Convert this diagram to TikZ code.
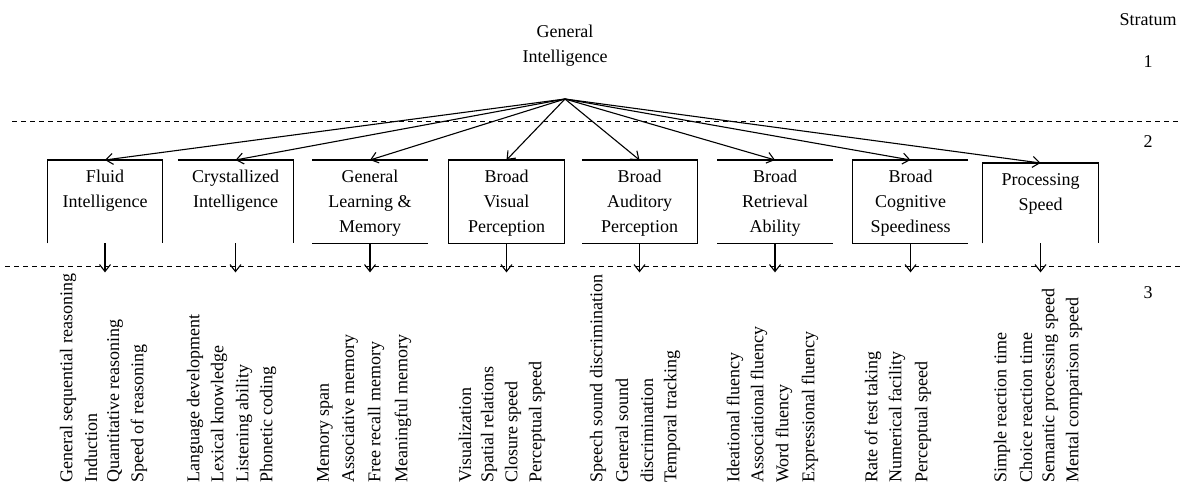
\documentclass[tikz,border=0pt]{standalone}
\usepackage{fontspec}
\setmainfont{Liberation Serif}
\usepackage{tikz}
\usetikzlibrary{arrows.meta, positioning}
\tikzset{
  catbox/.style={minimum width=115pt, minimum height=83pt, inner sep=0pt, anchor=north},
  cattext/.style={align=center, inner sep=0pt, font=\fontsize{18}{25}\selectfont},
  ability/.style={rotate=90, anchor=west, inner sep=0pt, font=\fontsize{18}{22}\selectfont},
  arrow/.style={-{Straight Barb[length=7pt,width=11pt]}, line width=1.1pt},
  edge/.style={line width=1.1pt},
  stratumline/.style={dash pattern=on 5pt off 4pt, line width=0.9pt}
}

\begin{document}
\begin{tikzpicture}[x=1pt, y=1pt, every node/.style={font=\fontsize{18}{25}\selectfont}]
    \useasboundingbox (0,0) rectangle (1181,492);

    % stratum 1
    \node[align=center] (gi) at (565,446) {General\\Intelligence};
    \coordinate (g) at (565,393);
    \node (stratum) at (1148,472) {Stratum};
    \node (s1) at (1148,430) {1};
    \node (s2) at (1148,350) {2};
    \node (s3) at (1148,199) {3};

    % strata borders
    \coordinate (b1l) at (12,371);
    \coordinate (b1r) at (1181,371);
    \coordinate (b2l) at (5,226);
    \coordinate (b2r) at (1181,226);
    \draw[stratumline] (b1l) -- (b1r);
    \draw[stratumline] (b2l) -- (b2r);

    % stratum 2 boxes
    \node[catbox] (fluid) at (105,332) {};
    \node[catbox] (cryst) at (235.5,332) {};
    \node[catbox] (glm) at (370,332) {};
    \node[catbox] (bvp) at (506.5,332) {};
    \node[catbox] (bap) at (639.5,332) {};
    \node[catbox] (bra) at (775,332) {};
    \node[catbox] (bcs) at (910.5,332) {};
    \node[catbox, minimum height=80pt] (pspeed) at (1040.5,329) {};

    \node[cattext, below=10pt of fluid.north] (fluid-t) {Fluid\\Intelligence};
    \node[cattext, below=10pt of cryst.north] (cryst-t) {Crystallized\\Intelligence};
    \node[cattext, below=10pt of glm.north] (glm-t) {General\\Learning \&\\Memory};
    \node[cattext, below=10pt of bvp.north] (bvp-t) {Broad\\Visual\\Perception};
    \node[cattext, below=10pt of bap.north] (bap-t) {Broad\\Auditory\\Perception};
    \node[cattext, below=10pt of bra.north] (bra-t) {Broad\\Retrieval\\Ability};
    \node[cattext, below=10pt of bcs.north] (bcs-t) {Broad\\Cognitive\\Speediness};
    \node[cattext, below=10pt of pspeed.north] (pspeed-t) {Processing\\Speed};

    % box outlines
    \draw[edge] (fluid.south west) -- (fluid.north west) -- (fluid.north east) -- (fluid.south east);
    \draw[edge] (cryst.north west) -- (cryst.north east) -- (cryst.south east);
    \draw[edge] (glm.north west) -- (glm.north east);
    \draw[edge] (glm.south west) -- (glm.south east);
    \draw[edge] (bvp.south west) rectangle (bvp.north east);
    \draw[edge] (bap.north west) -- (bap.north east) -- (bap.south east) -- (bap.south west);
    \draw[edge] (bra.north west) -- (bra.north east);
    \draw[edge] (bra.south west) -- (bra.south east);
    \draw[edge] (bcs.north east) -- (bcs.north west) -- (bcs.south west) -- (bcs.south east);
    \draw[edge] (pspeed.south west) -- (pspeed.north west) -- (pspeed.north east) -- (pspeed.south east);

    % arrows from g
    \draw[arrow] (g) -- (fluid.north);
    \draw[arrow] (g) -- (cryst.north);
    \draw[arrow] (g) -- (glm.north);
    \draw[arrow] (g) -- (bvp.north);
    \draw[arrow] (g) -- (bap.north);
    \draw[arrow] (g) -- (bra.north);
    \draw[arrow] (g) -- (bcs.north);
    \draw[arrow] (g) -- (pspeed.north);

    % arrows to stratum 3
    \draw[arrow] (fluid.south) -- ++(0,-29);
    \draw[arrow] (cryst.south) -- ++(0,-29);
    \draw[arrow] (glm.south) -- ++(0,-29);
    \draw[arrow] (bvp.south) -- ++(0,-29);
    \draw[arrow] (bap.south) -- ++(0,-29);
    \draw[arrow] (bra.south) -- ++(0,-29);
    \draw[arrow] (bcs.south) -- ++(0,-29);
    \draw[arrow] (pspeed.south) -- ++(0,-29);

    % stratum 3 abilities
    \node[ability] (gf1) at (68,9) {General sequential reasoning};
    \node[ability] (gf2) at (91,9) {Induction};
    \node[ability] (gf3) at (115,9) {Quantitative reasoning};
    \node[ability] (gf4) at (139,9) {Speed of reasoning};

    \node[ability] (gc1) at (195,9) {Language development};
    \node[ability] (gc2) at (219,9) {Lexical knowledge};
    \node[ability] (gc3) at (244,9) {Listening ability};
    \node[ability] (gc4) at (268,9) {Phonetic coding};

    \node[ability] (gy1) at (325,9) {Memory span};
    \node[ability] (gy2) at (350,9) {Associative memory};
    \node[ability] (gy3) at (376,9) {Free recall memory};
    \node[ability] (gy4) at (403,9) {Meaningful memory};

    \node[ability] (gv1) at (465,9) {Visualization};
    \node[ability] (gv2) at (489,9) {Spatial relations};
    \node[ability] (gv3) at (513,9) {Closure speed};
    \node[ability] (gv4) at (537,9) {Perceptual speed};

    \node[ability] (gu1) at (598,9) {Speech sound discrimination};
    \node[ability] (gu2) at (622,9) {General sound};
    \node[ability] (gu3) at (647,9) {discrimination};
    \node[ability] (gu4) at (672,9) {Temporal tracking};

    \node[ability] (gr1) at (735,9) {Ideational fluency};
    \node[ability] (gr2) at (759,9) {Associational fluency};
    \node[ability] (gr3) at (784,9) {Word fluency};
    \node[ability] (gr4) at (810,9) {Expressional fluency};

    \node[ability] (gs1) at (873,9) {Rate of test taking};
    \node[ability] (gs2) at (897,9) {Numerical facility};
    \node[ability] (gs3) at (923,9) {Perceptual speed};

    \node[ability] (gt1) at (1002,9) {Simple reaction time};
    \node[ability] (gt2) at (1026,9) {Choice reaction time};
    \node[ability] (gt3) at (1050,9) {Semantic processing speed};
    \node[ability] (gt4) at (1074,9) {Mental comparison speed};
\end{tikzpicture}
\end{document}
